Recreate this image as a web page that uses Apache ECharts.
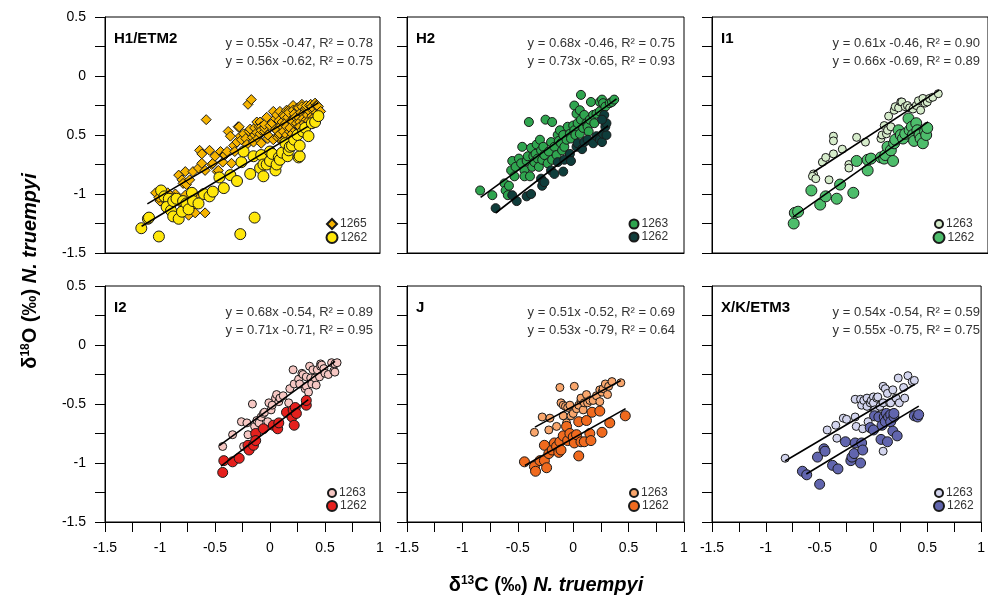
<!DOCTYPE html>
<html>
<head>
<meta charset="utf-8">
<script src="https://cdn.jsdelivr.net/npm/echarts@6.0.0/dist/echarts.min.js"></script>
<style>
  html, body { margin: 0; padding: 0; background: #fff; }
  #chart { width: 988px; height: 607px; }
</style>
</head>
<body>
<div id="chart"></div>
<script>
// panel names and sites
const panelNames = ['H1/ETM2', 'H2', 'I1', 'I2', 'J', 'X/K/ETM3']
const siteA = ['1265', '1263', '1263', '1263', '1263', '1263']
const siteB = ['1262', '1262', '1262', '1262', '1262', '1262']

// regression lines as printed in each panel
const slopeA = [0.55, 0.68, 0.61, 0.68, 0.51, 0.54]
const interceptA = [-0.47, -0.46, -0.46, -0.54, -0.52, -0.54]
const r2A = [0.78, 0.75, 0.90, 0.89, 0.69, 0.59]
const slopeB = [0.56, 0.73, 0.66, 0.71, 0.53, 0.55]
const interceptB = [-0.62, -0.65, -0.69, -0.71, -0.79, -0.75]
const r2B = [0.75, 0.93, 0.89, 0.95, 0.64, 0.75]
// x extent of each fitted line
const fitRangeA = [[-1.115, 0.44], [-0.836, 0.391], [-0.579, 0.557], [-0.461, 0.591], [-0.345, 0.43], [-0.821, 0.385]]
const fitRangeB = [[-1.167, 0.348], [-0.70, 0.315], [-0.767, 0.457], [-0.445, 0.348], [-0.436, 0.473], [-0.624, 0.421]]

// tick labels
const xTickLabels = { '-1.5': '-1.5', '-1': '-1', '-0.5': '-0.5', '0': '0', '0.5': '0.5', '1': '1' }
const yTickLabelsTop = { '-1.5': '-1.5', '-1': '-1', '-0.5': '0.5', '0': '0', '0.5': '0.5' }
const yTickLabelsBottom = { '-1.5': '-1.5', '-1': '-1', '-0.5': '-0.5', '0': '0', '0.5': '0.5' }

// d13C, d18O
const h1_1265 = [[-1.04,-0.99],[-1.0,-1.06],[-0.97,-1.04],[-0.95,-1.02],[-0.92,-1.07],[-0.89,-1.04],[-0.86,-1.0],[-0.83,-0.84],[-0.82,-1.07],[-0.80,-0.88],
  [-0.79,-0.91],[-0.77,-0.81],[-0.77,-1.01],[-0.76,-0.92],[-0.74,-1.18],[-0.73,-0.88],[-0.71,-1.11],[-0.70,-0.81],[-0.68,-1.16],[-0.68,-1.02],
  [-0.65,-0.78],[-0.64,-0.63],[-0.62,-0.74],[-0.62,-0.66],[-0.59,-1.16],[-0.58,-0.37],[-0.59,-0.80],[-0.55,-0.63],[-0.53,-0.75],[-0.52,-0.74],
  [-0.50,-0.68],[-0.48,-0.81],[-0.47,-0.80],[-0.45,-0.64],[-0.43,-0.73],[-0.42,-0.67],[-0.41,-0.67],[-0.39,-0.64],[-0.38,-0.47],[-0.36,-0.51],
  [-0.35,-0.74],[-0.33,-0.59],[-0.32,-0.64],[-0.30,-0.56],[-0.29,-0.43],[-0.28,-0.43],[-0.27,-0.51],[-0.26,-0.54],[-0.24,-0.49],[-0.22,-0.53],
  [-0.21,-0.58],[-0.20,-0.24],[-0.19,-0.47],[-0.18,-0.45],[-0.17,-0.20],[-0.16,-0.52],[-0.15,-0.56],[-0.14,-0.50],[-0.14,-0.44],[-0.12,-0.39],
  [-0.12,-0.48],[-0.11,-0.53],[-0.10,-0.43],[-0.09,-0.39],[-0.09,-0.49],[-0.08,-0.43],[-0.08,-0.57],[-0.08,-0.46],[-0.05,-0.47],[-0.05,-0.44],
  [-0.05,-0.41],[-0.03,-0.35],[-0.02,-0.53],[-0.02,-0.50],[0.00,-0.42],[0.02,-0.40],[0.03,-0.30],[0.03,-0.54],[0.05,-0.36],[0.05,-0.45],
  [0.06,-0.46],[0.06,-0.33],[0.07,-0.52],[0.08,-0.50],[0.08,-0.38],[0.09,-0.49],[0.09,-0.30],[0.10,-0.42],[0.11,-0.39],[0.11,-0.55],
  [0.12,-0.33],[0.12,-0.47],[0.12,-0.54],[0.13,-0.34],[0.14,-0.53],[0.14,-0.40],[0.15,-0.43],[0.15,-0.50],[0.15,-0.29],[0.16,-0.35],
  [0.17,-0.29],[0.17,-0.31],[0.18,-0.47],[0.18,-0.44],[0.19,-0.52],[0.20,-0.37],[0.20,-0.38],[0.20,-0.49],[0.21,-0.25],[0.21,-0.29],
  [0.22,-0.32],[0.23,-0.35],[0.23,-0.46],[0.24,-0.42],[0.24,-0.40],[0.25,-0.27],[0.26,-0.27],[0.26,-0.35],[0.26,-0.43],[0.27,-0.39],
  [0.27,-0.43],[0.28,-0.31],[0.29,-0.24],[0.29,-0.26],[0.30,-0.32],[0.30,-0.36],[0.31,-0.40],[0.32,-0.28],[0.33,-0.27],[0.33,-0.25],
  [0.33,-0.37],[0.34,-0.33],[0.35,-0.38],[0.36,-0.25],[0.36,-0.30],[0.37,-0.24],[0.38,-0.34],[0.38,-0.26],[0.39,-0.29],[0.39,-0.36],
  [0.40,-0.28],[0.41,-0.23],[0.42,-0.31],[0.42,-0.25],[0.43,-0.25],[0.44,-0.26],[0.46,-0.30],[-0.87,-1.03],[-0.93,-0.99],[-1.01,-1.03]]
const h1_1262 = [[-1.17,-1.29],[-1.01,-1.36],[-1.11,-1.21],[-1.10,-1.20],[-0.99,-0.97],[-0.96,-1.02],[-0.92,-1.04],[-0.94,-1.11],[-0.90,-1.14],[-0.88,-1.19],
  [-0.88,-1.06],[-0.85,-1.04],[-0.83,-1.21],[-0.80,-1.15],[-0.79,-1.06],[-0.76,-1.08],[-0.74,-1.13],[-0.71,-0.99],[-0.70,-1.06],[-0.65,-1.08],
  [-0.60,-1.00],[-0.55,-1.02],[-0.52,-0.98],[-0.46,-0.86],[-0.42,-0.95],[-0.36,-0.84],[-0.30,-0.89],[-0.27,-1.34],[-0.26,-0.73],[-0.24,-0.64],
  [-0.18,-0.83],[-0.15,-0.68],[-0.14,-1.20],[-0.09,-0.78],[-0.08,-0.67],[-0.06,-0.85],[-0.06,-0.75],[-0.03,-0.75],[0.00,-0.72],[0.00,-0.64],
  [0.02,-0.66],[0.05,-0.80],[0.06,-0.75],[0.08,-0.69],[0.09,-0.71],[0.11,-0.65],[0.14,-0.57],[0.16,-0.68],[0.17,-0.63],[0.18,-0.60],
  [0.20,-0.59],[0.22,-0.54],[0.25,-0.50],[0.26,-0.69],[0.27,-0.68],[0.27,-0.59],[0.30,-0.47],[0.32,-0.44],[0.35,-0.51],[0.38,-0.40],
  [0.41,-0.39],[0.44,-0.34]]
const h2_1263 = [[-0.84,-0.97],[-0.73,-1.01],[-0.62,-0.91],[-0.61,-0.97],[-0.59,-1.01],[-0.58,-0.93],[-0.56,-0.80],[-0.55,-0.72],[-0.53,-0.85],[-0.52,-0.77],
  [-0.49,-0.70],[-0.47,-0.74],[-0.46,-0.60],[-0.44,-0.80],[-0.44,-0.85],[-0.42,-0.72],[-0.41,-0.68],[-0.40,-0.39],[-0.39,-0.85],[-0.38,-0.61],
  [-0.37,-0.77],[-0.36,-0.68],[-0.35,-0.73],[-0.34,-0.66],[-0.33,-0.58],[-0.32,-0.70],[-0.31,-0.77],[-0.30,-0.54],[-0.29,-0.63],[-0.28,-0.71],
  [-0.27,-0.60],[-0.26,-0.67],[-0.25,-0.37],[-0.23,-0.74],[-0.22,-0.64],[-0.20,-0.56],[-0.19,-0.39],[-0.19,-0.71],[-0.17,-0.60],[-0.15,-0.67],
  [-0.14,-0.50],[-0.13,-0.55],[-0.12,-0.46],[-0.11,-0.57],[-0.10,-0.63],[-0.09,-0.50],[-0.08,-0.60],[-0.06,-0.54],[-0.05,-0.43],[-0.03,-0.49],
  [-0.02,-0.53],[0.00,-0.42],[0.01,-0.46],[0.01,-0.25],[0.02,-0.50],[0.03,-0.32],[0.04,-0.40],[0.06,-0.49],[0.06,-0.29],[0.07,-0.37],
  [0.07,-0.16],[0.09,-0.44],[0.10,-0.33],[0.12,-0.40],[0.13,-0.43],[0.14,-0.47],[0.15,-0.37],[0.16,-0.22],[0.18,-0.33],[0.19,-0.40],
  [0.21,-0.32],[0.24,-0.22],[0.24,-0.30],[0.26,-0.20],[0.27,-0.23],[0.29,-0.26],[0.33,-0.23],[0.35,-0.22],[0.37,-0.20]]
const h2_1262 = [[-0.70,-1.12],[-0.55,-1.01],[-0.51,-1.06],[-0.42,-1.02],[-0.38,-1.00],[-0.29,-0.87],[-0.28,-0.93],[-0.26,-0.90],[-0.20,-0.80],[-0.17,-0.83],
  [-0.14,-0.73],[-0.09,-0.81],[-0.08,-0.71],[-0.03,-0.66],[-0.02,-0.72],[0.03,-0.60],[0.04,-0.57],[0.08,-0.62],[0.10,-0.56],[0.13,-0.54],
  [0.18,-0.57],[0.21,-0.51],[0.24,-0.54],[0.26,-0.56],[0.27,-0.49],[0.30,-0.50],[0.29,-0.43],[0.30,-0.40],[0.28,-0.33],[0.26,-0.37]]
const i1_1263 = [[-0.58,-0.83],[-0.59,-0.85],[-0.56,-0.87],[-0.50,-0.73],[-0.47,-0.69],[-0.44,-0.88],[-0.40,-0.66],[-0.40,-0.51],[-0.40,-0.55],[-0.32,-0.62],
  [-0.26,-0.75],[-0.26,-0.78],[-0.19,-0.52],[-0.11,-0.56],[0.03,-0.53],[0.04,-0.50],[0.06,-0.42],[0.08,-0.49],[0.09,-0.46],[0.10,-0.34],
  [0.12,-0.43],[0.15,-0.29],[0.16,-0.26],[0.19,-0.27],[0.21,-0.22],[0.22,-0.22],[0.25,-0.26],[0.27,-0.25],[0.29,-0.27],[0.32,-0.28],
  [0.35,-0.25],[0.37,-0.21],[0.39,-0.29],[0.41,-0.19],[0.43,-0.23],[0.45,-0.22],[0.47,-0.19],[0.50,-0.18],[0.55,-0.15]]
const i1_1262 = [[-0.76,-1.25],[-0.75,-1.16],[-0.72,-1.15],[-0.60,-0.97],[-0.52,-1.09],[-0.47,-1.02],[-0.37,-1.04],[-0.34,-0.92],[-0.22,-0.99],[-0.19,-0.72],
  [-0.09,-0.80],[-0.09,-0.71],[-0.06,-0.70],[0.03,-0.69],[0.06,-0.70],[0.07,-0.67],[0.09,-0.60],[0.12,-0.63],[0.14,-0.72],[0.15,-0.57],
  [0.16,-0.54],[0.19,-0.46],[0.21,-0.50],[0.23,-0.53],[0.25,-0.49],[0.28,-0.36],[0.29,-0.46],[0.31,-0.43],[0.32,-0.50],[0.33,-0.55],
  [0.35,-0.40],[0.36,-0.46],[0.38,-0.50],[0.39,-0.53],[0.41,-0.57],[0.43,-0.47],[0.44,-0.50],[0.45,-0.44]]
const i2_1263 = [[-0.43,-0.86],[-0.34,-0.76],[-0.26,-0.65],[-0.24,-0.86],[-0.21,-0.66],[-0.20,-0.76],[-0.16,-0.50],[-0.14,-0.69],[-0.12,-0.64],[-0.10,-0.66],
  [-0.08,-0.61],[-0.06,-0.58],[-0.05,-0.57],[-0.02,-0.65],[-0.01,-0.49],[0.01,-0.55],[0.02,-0.51],[0.05,-0.45],[0.06,-0.42],[0.08,-0.48],
  [0.09,-0.45],[0.12,-0.43],[0.17,-0.49],[0.18,-0.37],[0.21,-0.21],[0.22,-0.33],[0.26,-0.29],[0.27,-0.33],[0.29,-0.24],[0.30,-0.25],
  [0.32,-0.37],[0.33,-0.35],[0.33,-0.27],[0.35,-0.40],[0.36,-0.18],[0.37,-0.28],[0.38,-0.33],[0.39,-0.21],[0.41,-0.28],[0.42,-0.34],
  [0.43,-0.21],[0.45,-0.27],[0.46,-0.16],[0.46,-0.18],[0.47,-0.17],[0.49,-0.20],[0.50,-0.24],[0.53,-0.25],[0.56,-0.15],[0.58,-0.22],
  [0.59,-0.16],[0.59,-0.23],[0.61,-0.15]]
const i2_1262 = [[-0.43,-1.08],[-0.42,-0.98],[-0.34,-0.99],[-0.28,-0.96],[-0.20,-0.85],[-0.19,-0.89],[-0.15,-0.85],[-0.13,-0.75],[-0.13,-0.81],[-0.06,-0.71],
  [0.03,-0.68],[0.07,-0.71],[0.08,-0.66],[0.15,-0.57],[0.20,-0.61],[0.21,-0.55],[0.22,-0.68],[0.23,-0.53],[0.24,-0.58],[0.33,-0.51],
  [0.33,-0.47]]
const j_1263 = [[-0.35,-0.74],[-0.28,-0.61],[-0.22,-0.72],[-0.21,-0.62],[-0.15,-0.69],[-0.12,-0.36],[-0.11,-0.49],[-0.09,-0.51],[-0.09,-0.60],[-0.07,-0.52],
  [-0.06,-0.66],[-0.05,-0.53],[-0.03,-0.51],[-0.02,-0.60],[0.00,-0.58],[0.01,-0.35],[0.03,-0.54],[0.05,-0.51],[0.07,-0.47],[0.07,-0.45],
  [0.09,-0.55],[0.10,-0.49],[0.12,-0.42],[0.13,-0.49],[0.15,-0.47],[0.18,-0.47],[0.21,-0.43],[0.24,-0.48],[0.24,-0.38],[0.26,-0.40],
  [0.27,-0.37],[0.29,-0.33],[0.31,-0.42],[0.32,-0.35],[0.35,-0.31],[0.43,-0.32]]
const j_1262 = [[-0.44,-0.99],[-0.35,-1.03],[-0.34,-1.07],[-0.30,-0.98],[-0.26,-0.85],[-0.26,-0.98],[-0.24,-1.04],[-0.22,-0.92],[-0.19,-0.89],[-0.17,-0.83],
  [-0.15,-0.86],[-0.13,-0.91],[-0.12,-0.82],[-0.11,-0.89],[-0.09,-0.77],[-0.06,-0.69],[-0.05,-0.81],[-0.03,-0.75],[0.00,-0.78],[0.01,-0.83],
  [0.03,-0.76],[0.05,-0.65],[0.05,-0.94],[0.07,-0.82],[0.10,-0.82],[0.12,-0.64],[0.15,-0.75],[0.16,-0.81],[0.17,-0.57],[0.24,-0.56],
  [0.26,-0.74],[0.33,-0.66],[0.47,-0.60]]
const xk_1263 = [[-0.82,-0.96],[-0.43,-0.72],[-0.35,-0.68],[-0.34,-0.79],[-0.28,-0.62],[-0.25,-0.63],[-0.17,-0.61],[-0.16,-0.69],[-0.17,-0.46],[-0.12,-0.46],
  [-0.11,-0.51],[-0.10,-0.71],[-0.09,-0.47],[-0.06,-0.45],[-0.06,-0.52],[-0.05,-0.65],[-0.03,-0.49],[-0.02,-0.47],[0.00,-0.44],[0.00,-0.49],
  [0.01,-0.55],[0.03,-0.45],[0.04,-0.44],[0.06,-0.52],[0.07,-0.59],[0.09,-0.49],[0.09,-0.35],[0.09,-0.90],[0.11,-0.37],[0.13,-0.41],
  [0.15,-0.49],[0.16,-0.49],[0.18,-0.38],[0.21,-0.45],[0.23,-0.28],[0.24,-0.49],[0.28,-0.36],[0.29,-0.45],[0.32,-0.26],[0.36,-0.31],
  [0.38,-0.30]]
const xk_1262 = [[-0.66,-1.07],[-0.62,-1.10],[-0.52,-0.95],[-0.50,-1.18],[-0.46,-0.88],[-0.45,-0.90],[-0.38,-1.02],[-0.33,-1.05],[-0.26,-0.82],[-0.21,-0.98],
  [-0.20,-0.95],[-0.18,-0.92],[-0.17,-0.83],[-0.12,-1.00],[-0.11,-0.83],[-0.10,-0.89],[-0.03,-0.70],[0.00,-0.72],[0.01,-0.60],[0.05,-0.61],
  [0.07,-0.80],[0.08,-0.68],[0.10,-0.61],[0.11,-0.65],[0.12,-0.58],[0.13,-0.82],[0.14,-0.61],[0.16,-0.59],[0.16,-0.65],[0.18,-0.73],
  [0.19,-0.61],[0.19,-0.58],[0.22,-0.77],[0.38,-0.60],[0.41,-0.61],[0.42,-0.59]]

const dataA = [h1_1265, h2_1263, i1_1263, i2_1263, j_1263, xk_1263]
const dataB = [h1_1262, h2_1262, i1_1262, i2_1262, j_1262, xk_1262]

// styles
const colorA = ['#f6b400', '#2fa54f', '#d6eccb', '#f6c7c3', '#f9a66c', '#d3d5ee']
const colorB = ['#ffe70a', '#0f3d3b', '#4dbd6b', '#e5201d', '#f06a1e', '#6165ae']
const symbolA = ['diamond', 'circle', 'circle', 'circle', 'circle', 'circle']
const sizeA = [10, 9, 8, 8, 8, 8]
const sizeB = [11, 9, 11, 10, 10, 10]

const FONT = '"Liberation Sans", Arial, Helvetica, sans-serif'
const gridLefts = [105, 407, 712]
const gridWidths = [275, 277, 277]
const gridTops = [17, 286]
const gridHeight = 236

const chart = echarts.init(document.getElementById('chart'))

const grid = []
const xAxis = []
const yAxis = []
const series = []
const legend = []
const graphic = []

function fmtEq(m, b, r2) {
  return 'y = ' + m.toFixed(2) + 'x ' + b.toFixed(2) + ', R\u00b2 = ' + r2.toFixed(2)
}

panelNames.forEach((name, i) => {
  const col = i % 3
  const row = Math.floor(i / 3)
  const left = gridLefts[col]
  const top = gridTops[row]
  grid.push({
    left: left,
    top: top,
    width: gridWidths[col],
    height: gridHeight,
    show: true,
    borderColor: '#000',
    borderWidth: 1,
  })
  xAxis.push({
    gridIndex: i,
    type: 'value',
    min: -1.5,
    max: 1,
    interval: 0.5,
    axisLine: { show: true, onZero: false, lineStyle: { color: '#000', width: 1 } },
    axisTick: { show: row === 1, length: 10, lineStyle: { color: '#000' } },
    minorTick: { show: row === 1, splitNumber: 2, length: 10, lineStyle: { color: '#000' } },
    splitLine: { show: false },
    axisLabel: {
      show: row === 1,
      margin: 19,
      fontSize: 14,
      fontFamily: FONT,
      color: '#000',
      formatter: (v) => xTickLabels[String(v)],
    },
  })
  const yLabels = row === 0 ? yTickLabelsTop : yTickLabelsBottom
  yAxis.push({
    gridIndex: i,
    type: 'value',
    min: -1.5,
    max: 0.5,
    interval: 0.5,
    axisLine: { show: true, onZero: false, lineStyle: { color: '#000', width: 1 } },
    axisTick: { show: true, length: 10, lineStyle: { color: '#000' } },
    minorTick: { show: true, splitNumber: 2, length: 10, lineStyle: { color: '#000' } },
    splitLine: { show: false },
    axisLabel: {
      show: col === 0,
      margin: 19,
      fontSize: 14,
      fontFamily: FONT,
      color: '#000',
      formatter: (v) => yLabels[String(v)],
    },
  })

  const nameA = siteA[i] + '#' + i
  const nameB = siteB[i] + '#' + i
  series.push({
    name: nameA,
    type: 'scatter',
    xAxisIndex: i,
    yAxisIndex: i,
    symbol: symbolA[i],
    symbolSize: sizeA[i],
    data: dataA[i],
    itemStyle: { color: colorA[i], borderColor: '#1a1a1a', borderWidth: 1, opacity: 1 },
    silent: true,
    z: 2,
  })
  series.push({
    name: nameB,
    type: 'scatter',
    xAxisIndex: i,
    yAxisIndex: i,
    symbol: 'circle',
    symbolSize: sizeB[i],
    data: dataB[i],
    itemStyle: { color: colorB[i], borderColor: '#1a1a1a', borderWidth: 1, opacity: 1 },
    silent: true,
    z: 3,
  })
  const lines = [
    [fitRangeA[i], slopeA[i], interceptA[i]],
    [fitRangeB[i], slopeB[i], interceptB[i]],
  ]
  lines.forEach(([rng, m, b]) => {
    series.push({
      type: 'line',
      xAxisIndex: i,
      yAxisIndex: i,
      data: rng.map((x) => [x, m * x + b]),
      showSymbol: false,
      symbol: 'none',
      lineStyle: { color: '#000', width: 1.6 },
      silent: true,
      z: 4,
    })
  })

  // legends, one entry each so sizes can differ
  const legendEntries = [[nameA, siteA[i], sizeA[i], 208], [nameB, siteB[i], sizeB[i], 221]]
  legendEntries.forEach(([sName, label, sz, dy]) => {
    legend.push({
      data: [sName],
      left: left + 226 - sz / 2,
      top: top + dy - 7,
      padding: 0,
      itemWidth: sz,
      itemHeight: sz,
      selectedMode: false,
      formatter: () => label,
      textStyle: { fontSize: 12, fontFamily: FONT, color: '#333', padding: [0, 0, 0, -2] },
    })
  })

  graphic.push({
    type: 'text',
    x: left + 9,
    y: top + 22,
    style: {
      text: name,
      fill: '#000',
      font: 'bold 15px ' + FONT,
      verticalAlign: 'middle',
      textVerticalAlign: 'middle',
    },
  })
  graphic.push({
    type: 'text',
    x: left + 268,
    y: top + 26,
    style: {
      text: fmtEq(slopeA[i], interceptA[i], r2A[i]),
      fill: '#333',
      font: '13px ' + FONT,
      align: 'right',
      textAlign: 'right',
      verticalAlign: 'middle',
      textVerticalAlign: 'middle',
    },
  })
  graphic.push({
    type: 'text',
    x: left + 268,
    y: top + 44,
    style: {
      text: fmtEq(slopeB[i], interceptB[i], r2B[i]),
      fill: '#333',
      font: '13px ' + FONT,
      align: 'right',
      textAlign: 'right',
      verticalAlign: 'middle',
      textVerticalAlign: 'middle',
    },
  })
})

const titleRich = {
  b: { fontSize: 20, fontWeight: 'bold', fontFamily: FONT, color: '#000' },
  s: { fontSize: 12, fontWeight: 'bold', fontFamily: FONT, color: '#000', verticalAlign: 'top', lineHeight: 15 },
  i: { fontSize: 20, fontWeight: 'bold', fontStyle: 'italic', fontFamily: FONT, color: '#000' },
}
graphic.push({
  type: 'text',
  x: 546,
  y: 585,
  style: {
    text: '{b|\u03b4}{s|13}{b|C (\u2030) }{i|N. truempyi}',
    rich: titleRich,
    align: 'center',
    textAlign: 'center',
    verticalAlign: 'middle',
    textVerticalAlign: 'middle',
  },
})
graphic.push({
  type: 'text',
  x: 30,
  y: 271,
  rotation: Math.PI / 2,
  style: {
    text: '{b|\u03b4}{s|18}{b|O (\u2030) }{i|N. truempyi}',
    rich: titleRich,
    align: 'center',
    textAlign: 'center',
    verticalAlign: 'middle',
    textVerticalAlign: 'middle',
  },
})

chart.setOption({
  animation: false,
  backgroundColor: '#fff',
  grid,
  xAxis,
  yAxis,
  legend,
  series,
  graphic,
})
</script>
</body>
</html>
